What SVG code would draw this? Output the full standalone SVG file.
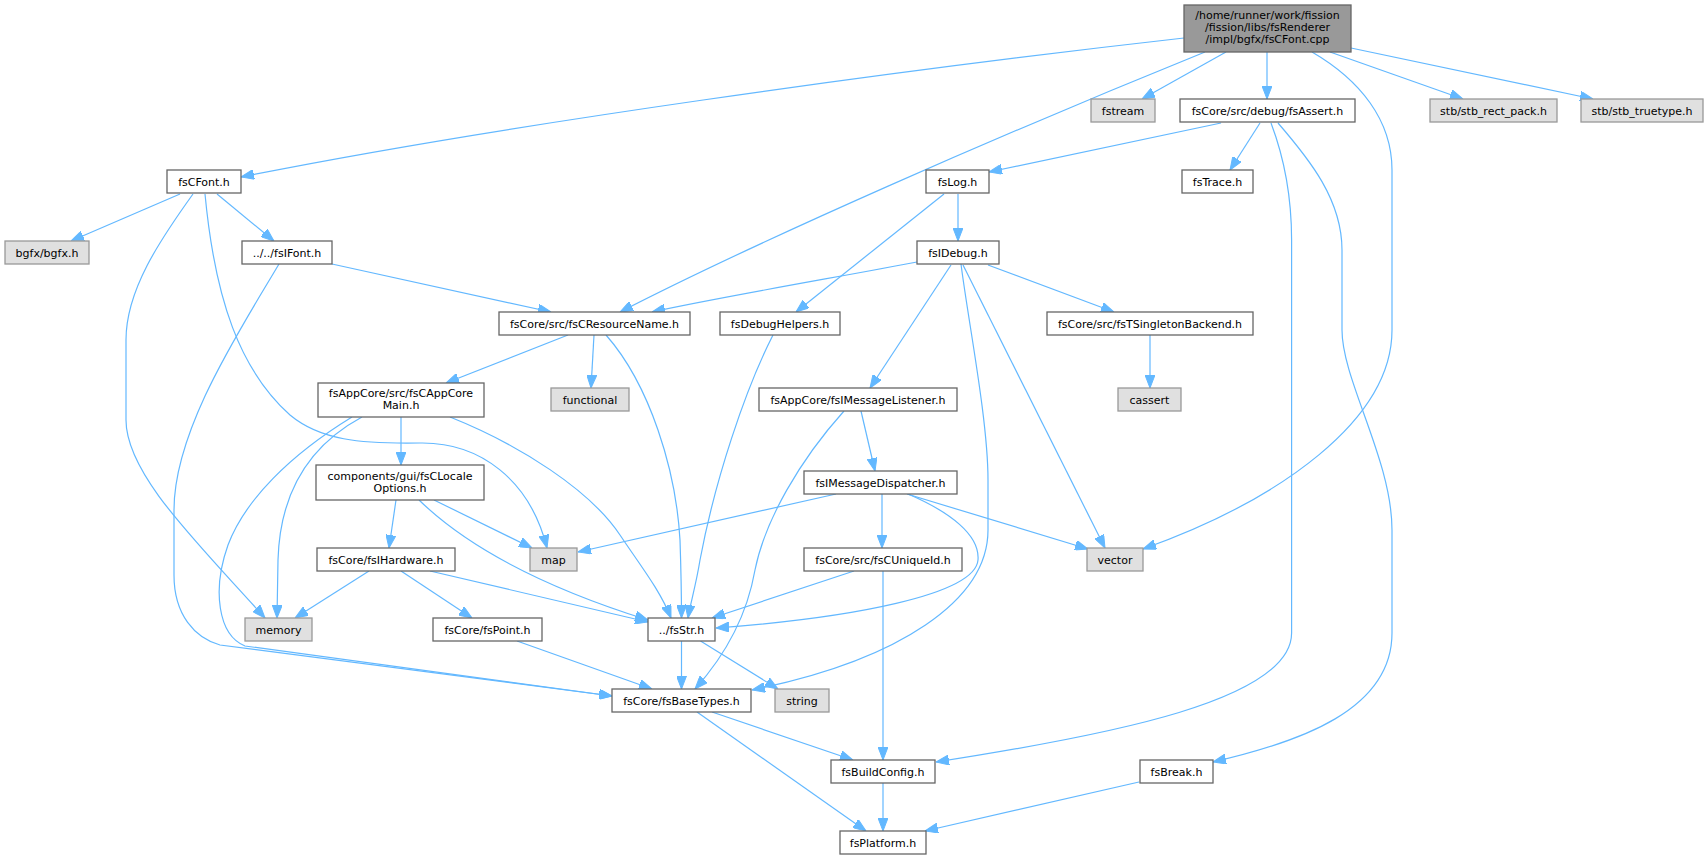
<svg xmlns="http://www.w3.org/2000/svg" width="1708" height="859" viewBox="0 0 1708 859">
<style>
.n rect{fill:#ffffff;stroke:#666666;stroke-width:1.3}
.g rect{fill:#e0e0e0;stroke:#999999;stroke-width:1.3}
.m rect{fill:#999999;stroke:#666666;stroke-width:1.3}
text{font-family:"DejaVu Sans","Liberation Sans",sans-serif;font-size:11px;fill:#000000;text-anchor:middle}
.e path{fill:none;stroke:#63b8ff;stroke-width:1.2;marker-end:url(#ah)}
</style>
<defs>
<marker id="ah" markerWidth="13" markerHeight="10" refX="13" refY="5" orient="auto" markerUnits="userSpaceOnUse">
<path d="M0,0 L13,5 L0,10 z" fill="#63b8ff" stroke="#63b8ff" stroke-width="1"/>
</marker>
</defs>
<rect x="0" y="0" width="1708" height="859" fill="#ffffff"/>
<g class="e" id="edges">
<path d="M1184,38 C900,70 500,125 241,177"/>
<path d="M1205,52 C1000,135 760,240 620,312"/>
<path d="M1226,52 L1142,99"/>
<path d="M1267,52 L1267,99"/>
<path d="M1312,52 C1360,80 1392,120 1392,170 L1392,330 C1392,420 1280,500 1143,549"/>
<path d="M1330,52 L1463,99"/>
<path d="M1351,48 L1593,99"/>
<path d="M1221,123 L989,172"/>
<path d="M1260,123 L1230,170"/>
<path d="M1271,123 C1285,160 1291.6,200 1291.6,240 L1291.6,633 C1291.6,700 1110,735 936,762"/>
<path d="M1278,123 C1310,160 1342,200 1342,250 L1342,330 C1342,380 1392,460 1392,530 L1392,633 C1392,710 1300,742 1213,762"/>
<path d="M958,194 L958,241"/>
<path d="M944,194 L796,312"/>
<path d="M917,262 C850,275 720,297 652,312"/>
<path d="M951,265 L870,388"/>
<path d="M961,264 C968,320 988,420 988,480 L988,530 C988,600 900,660 752,690"/>
<path d="M963,265 L1105,548"/>
<path d="M988,265 L1114,312"/>
<path d="M1150,335 L1150,388"/>
<path d="M180,194 L71,241"/>
<path d="M217,194 L274,241"/>
<path d="M193,194 C160,240 126,290 126,340 L126,420 C126,475 200,545 265,618"/>
<path d="M205,194 C215,300 240,370 290,415 C320,440 360,444 420,443 C480,442 530,480 547,548"/>
<path d="M332,264 L551,312"/>
<path d="M279,264 C240,330 174,430 174,510 L174,575 C174,615 195,638 220,645 L612,696"/>
<path d="M568,335 L446,383"/>
<path d="M594,335 L591,388"/>
<path d="M606,335 C650,385 676,470 680,540 C681,570 681.5,600 681.5,618"/>
<path d="M401,417 L401,465"/>
<path d="M362,417 C310,445 280,490 278,560 L277,618"/>
<path d="M352,417 C290,455 245,500 228,545 C212,590 218,635 245,646 L612,696"/>
<path d="M450,417 C520,445 590,490 620,535 C640,565 660,590 671,618"/>
<path d="M396,500 L389,548"/>
<path d="M434,500 L532,548"/>
<path d="M419,500 C455,535 520,580 648,620"/>
<path d="M369,571 L295,618"/>
<path d="M401,571 L472,618"/>
<path d="M430,571 L648,622"/>
<path d="M517,641 L652,689"/>
<path d="M773,335 C745,390 715,480 700,560 C696,585 690,605 688,618"/>
<path d="M861,411 L875,471"/>
<path d="M844,411 C800,460 765,520 755,570 C748,610 730,650 695,689"/>
<path d="M836,494 L578,552"/>
<path d="M882,494 L882,548"/>
<path d="M907,494 L1088,549"/>
<path d="M908,494 C950,512 980,535 978,560 C975,595 850,618 716,628"/>
<path d="M854,571 L712,618"/>
<path d="M883,571 L883,760"/>
<path d="M681.5,641 L681.5,689"/>
<path d="M700.5,641 L778,689"/>
<path d="M712,712 L853,760"/>
<path d="M697,712 L866,831"/>
<path d="M883,783 L883,831"/>
<path d="M1139,782 L925,831"/>
</g>
<g id="node1" class="m"><rect x="1184" y="5" width="167" height="47"/><text x="1267.5" y="19">/home/runner/work/fission</text><text x="1267.5" y="31">/fission/libs/fsRenderer</text><text x="1267.5" y="43">/impl/bgfx/fsCFont.cpp</text></g>
<g id="node2" class="n"><rect x="167" y="170" width="74" height="23"/><text x="204" y="185.5">fsCFont.h</text></g>
<g id="node3" class="g"><rect x="5" y="241" width="84" height="23"/><text x="47" y="256.5">bgfx/bgfx.h</text></g>
<g id="node4" class="n"><rect x="242" y="241" width="90" height="23"/><text x="287" y="256.5">../../fsIFont.h</text></g>
<g id="node5" class="g"><rect x="1091" y="99" width="64" height="23"/><text x="1123" y="114.5">fstream</text></g>
<g id="node6" class="n"><rect x="1180" y="99" width="175" height="23"/><text x="1267.5" y="114.5">fsCore/src/debug/fsAssert.h</text></g>
<g id="node7" class="n"><rect x="1182" y="170" width="71" height="23"/><text x="1217.5" y="185.5">fsTrace.h</text></g>
<g id="node8" class="g"><rect x="1430" y="99" width="127" height="23"/><text x="1493.5" y="114.5">stb/stb_rect_pack.h</text></g>
<g id="node9" class="g"><rect x="1581" y="99" width="122" height="23"/><text x="1642" y="114.5">stb/stb_truetype.h</text></g>
<g id="node10" class="n"><rect x="926" y="170" width="63" height="23"/><text x="957.5" y="185.5">fsLog.h</text></g>
<g id="node11" class="n"><rect x="917" y="241" width="82" height="23"/><text x="958" y="256.5">fsIDebug.h</text></g>
<g id="node12" class="n"><rect x="499" y="312" width="191" height="23"/><text x="594.5" y="327.5">fsCore/src/fsCResourceName.h</text></g>
<g id="node13" class="n"><rect x="720" y="312" width="120" height="23"/><text x="780" y="327.5">fsDebugHelpers.h</text></g>
<g id="node14" class="n"><rect x="1047" y="312" width="206" height="23"/><text x="1150" y="327.5">fsCore/src/fsTSingletonBackend.h</text></g>
<g id="node15" class="g"><rect x="551" y="388" width="78" height="23"/><text x="590" y="403.5">functional</text></g>
<g id="node16" class="g"><rect x="1118" y="388" width="63" height="23"/><text x="1149.5" y="403.5">cassert</text></g>
<g id="node17" class="n"><rect x="318" y="383" width="166" height="34"/><text x="401" y="397">fsAppCore/src/fsCAppCore</text><text x="401" y="409">Main.h</text></g>
<g id="node18" class="n"><rect x="759" y="388" width="198" height="23"/><text x="858" y="403.5">fsAppCore/fsIMessageListener.h</text></g>
<g id="node19" class="n"><rect x="316" y="465" width="168" height="35"/><text x="400" y="480">components/gui/fsCLocale</text><text x="400" y="492">Options.h</text></g>
<g id="node20" class="n"><rect x="804" y="471" width="153" height="23"/><text x="880.5" y="486.5">fsIMessageDispatcher.h</text></g>
<g id="node21" class="n"><rect x="317" y="548" width="138" height="23"/><text x="386" y="563.5">fsCore/fsIHardware.h</text></g>
<g id="node22" class="g"><rect x="530" y="548" width="47" height="23"/><text x="553.5" y="563.5">map</text></g>
<g id="node23" class="n"><rect x="804" y="548" width="158" height="23"/><text x="883" y="563.5">fsCore/src/fsCUniqueId.h</text></g>
<g id="node24" class="g"><rect x="1087" y="548" width="56" height="23"/><text x="1115" y="563.5">vector</text></g>
<g id="node25" class="g"><rect x="245" y="618" width="67" height="23"/><text x="278.5" y="633.5">memory</text></g>
<g id="node26" class="n"><rect x="433" y="618" width="109" height="23"/><text x="487.5" y="633.5">fsCore/fsPoint.h</text></g>
<g id="node27" class="n"><rect x="648" y="618" width="67" height="23"/><text x="681.5" y="633.5">../fsStr.h</text></g>
<g id="node28" class="n"><rect x="612" y="689" width="139" height="23"/><text x="681.5" y="704.5">fsCore/fsBaseTypes.h</text></g>
<g id="node29" class="g"><rect x="775" y="689" width="54" height="23"/><text x="802" y="704.5">string</text></g>
<g id="node30" class="n"><rect x="831" y="760" width="104" height="23"/><text x="883" y="775.5">fsBuildConfig.h</text></g>
<g id="node31" class="n"><rect x="1140" y="760" width="73" height="23"/><text x="1176.5" y="775.5">fsBreak.h</text></g>
<g id="node32" class="n"><rect x="840" y="831" width="86" height="23"/><text x="883" y="846.5">fsPlatform.h</text></g>
</svg>
